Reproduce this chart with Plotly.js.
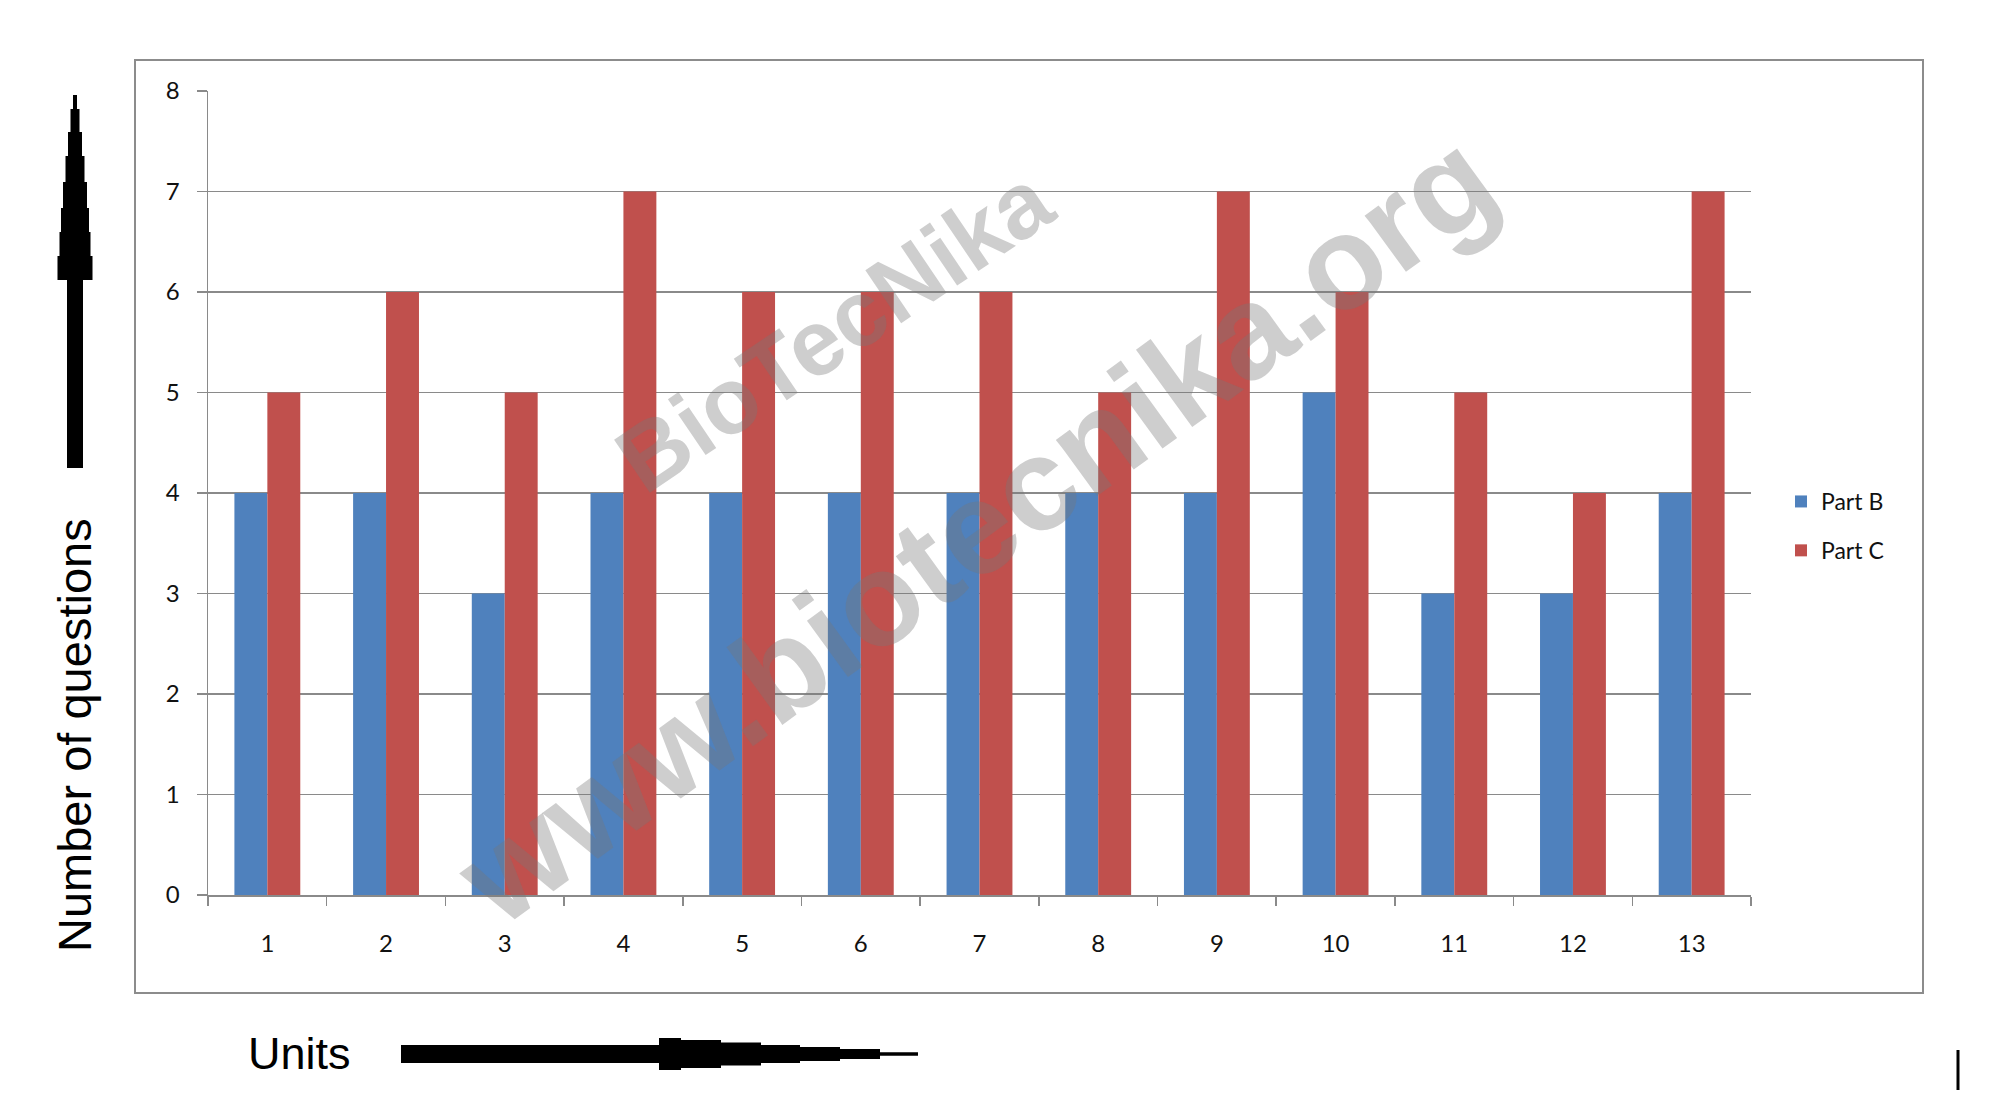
<!DOCTYPE html>
<html>
<head>
<meta charset="utf-8">
<script src="https://cdn.plot.ly/plotly-3.0.1.min.js"></script>
<style>html,body{margin:0;padding:0;background:#fff;}#chart{width:1994px;height:1103px;}</style>
</head>
<body>
<div id="chart"></div>
<script>
// ---- data ----
const units = ['1','2','3','4','5','6','7','8','9','10','11','12','13'];
const partB = [4,4,3,4,4,4,4,4,4,5,3,3,4];
const partC = [5,6,5,7,6,6,6,5,7,6,5,4,7];
const seriesNames = ['Part B','Part C'];
const yTicks = [0,1,2,3,4,5,6,7,8];

// ---- layout geometry (pixels) ----
const W = 1994, H = 1103;
const L = 208, R = 1751, T = 91, B = 895;
const px = x => (x - L) / (R - L);
const py = y => (B - y) / (B - T);

function pathFrom(pts) {
  return 'M' + pts.map(p => px(p[0]).toFixed(5) + ',' + py(p[1]).toFixed(5)).join('L') + 'Z';
}

// vertical stepped arrow (y-axis pointer)
const vx = 75;
const vSteps = [ // [yTop, yBottom, halfWidth]
  [95,109,2],[109,132,4.5],[132,156,7],[156,182,9.5],[182,208,12],
  [208,232,14],[232,256,15.5],[256,280,17.5],[280,468,8]
];
function vArrow() {
  const left = [], right = [];
  vSteps.forEach(s => {
    right.push([vx + s[2], s[0]]); right.push([vx + s[2], s[1]]);
    left.push([vx - s[2], s[0]]); left.push([vx - s[2], s[1]]);
  });
  return pathFrom(right.concat(left.reverse()));
}
// horizontal stepped arrow (x-axis pointer)
const hy = 1054;
const hSteps = [ // [xLeft, xRight, halfHeight]
  [401,659,9],[659,681,16],[681,721,14],[721,761,11.5],[761,800,9],
  [800,840,7],[840,880,5],[880,918,1.8]
];
function hArrow() {
  const top = [], bot = [];
  hSteps.forEach(s => {
    top.push([s[0], hy - s[2]]); top.push([s[1], hy - s[2]]);
    bot.push([s[0], hy + s[2]]); bot.push([s[1], hy + s[2]]);
  });
  return pathFrom(top.concat(bot.reverse()));
}

const gridGray = '#8a8a8a';
const tickFont = {family: 'Lato, "Liberation Sans", sans-serif', size: 24, color: '#111'};

const traces = [
  {type: 'bar', name: seriesNames[0], x: units, y: partB, marker: {color: '#4F81BD'}, legendgroup: 'b', hoverinfo: 'none'},
  {type: 'bar', name: seriesNames[1], x: units, y: partC, marker: {color: '#C0504D'}, legendgroup: 'c', hoverinfo: 'none'}
];

const layout = {
  width: W, height: H,
  margin: {l: L, r: W - R, t: T, b: H - B, pad: 0},
  paper_bgcolor: '#fff', plot_bgcolor: '#fff',
  barmode: 'group', bargap: 0.445, bargroupgap: 0,
  showlegend: true,
  legend: {
    x: px(1781), xanchor: 'left', y: py(526), yanchor: 'middle',
    font: {family: 'Lato, "Liberation Sans", sans-serif', size: 23, color: '#111'},
    traceorder: 'grouped', tracegroupgap: 16, bgcolor: 'rgba(0,0,0,0)', itemwidth: 30
  },
  xaxis: {
    type: 'category', showgrid: false, showline: true, linecolor: gridGray, linewidth: 1.5,
    ticks: 'outside', tickson: 'boundaries', ticklen: 9, tickcolor: gridGray, tickwidth: 1.5,
    tickfont: tickFont, ticklabelstandoff: 27, zeroline: false
  },
  yaxis: {
    range: [0, 8], tickvals: yTicks, showgrid: true, gridcolor: gridGray, gridwidth: 1.5,
    showline: true, linecolor: gridGray, linewidth: 1.5, zeroline: false,
    ticks: 'outside', ticklen: 10, tickcolor: gridGray, tickwidth: 1.5,
    tickfont: tickFont, ticklabelstandoff: 12
  },
  shapes: [
    {type: 'rect', xref: 'paper', yref: 'paper', x0: px(135), x1: px(1923), y0: py(993), y1: py(60),
     line: {color: '#8c8c8c', width: 2}, fillcolor: 'rgba(0,0,0,0)', layer: 'below'},
    {type: 'path', xref: 'paper', yref: 'paper', path: vArrow(), fillcolor: '#000', line: {width: 0}},
    {type: 'path', xref: 'paper', yref: 'paper', path: hArrow(), fillcolor: '#000', line: {width: 0}},
    {type: 'line', xref: 'paper', yref: 'paper', x0: px(1958), x1: px(1958), y0: py(1050), y1: py(1090),
     line: {color: '#000', width: 3}}
  ],
  annotations: [
    {text: 'Number of questions', xref: 'paper', yref: 'paper', x: px(74), y: py(735),
     xanchor: 'center', yanchor: 'middle', textangle: -90, showarrow: false,
     font: {family: '"Liberation Sans", Arial, sans-serif', size: 47, color: '#000'}},
    {text: 'Units', xref: 'paper', yref: 'paper', x: px(246), y: py(1053),
     xanchor: 'left', yanchor: 'middle', showarrow: false,
     font: {family: '"Liberation Sans", Arial, sans-serif', size: 45, color: '#000'}},
    {text: '<b>BioTecNika</b>', xref: 'paper', yref: 'paper', x: px(834), y: py(330),
     xanchor: 'center', yanchor: 'middle', textangle: -34, showarrow: false,
     font: {family: '"Liberation Sans", Arial, sans-serif', size: 93, color: 'rgba(120,120,120,0.36)'}},
    {text: '<b>www.biotecnika.org</b>', xref: 'paper', yref: 'paper', x: px(975), y: py(528),
     xanchor: 'center', yanchor: 'middle', textangle: -36, showarrow: false,
     font: {family: '"Liberation Sans", Arial, sans-serif', size: 132, color: 'rgba(120,120,120,0.36)'}}
  ]
};

Plotly.newPlot('chart', traces, layout, {staticPlot: true, displayModeBar: false});
</script>
</body>
</html>
